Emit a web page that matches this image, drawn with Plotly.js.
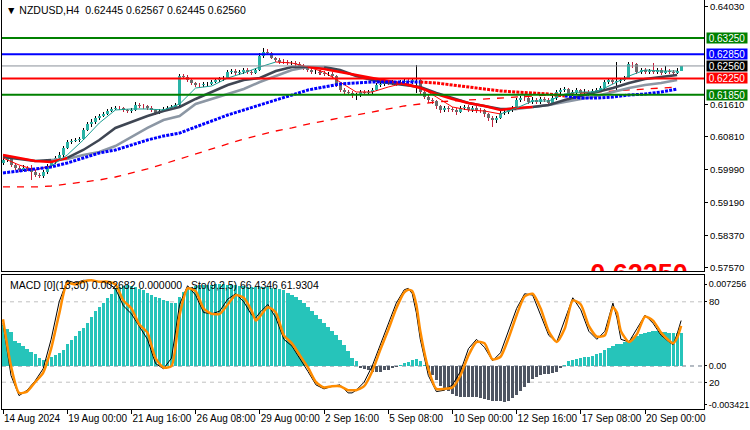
<!DOCTYPE html>
<html><head><meta charset="utf-8">
<script src="https://cdn.plot.ly/plotly-3.0.1.min.js"></script>
<style>html,body{margin:0;padding:0;background:#fff}#chart{width:750px;height:430px}</style>
</head><body><div id="chart"></div>
<script>
// ---------- DATA ----------
const openP = [
0.60150,0.60234,0.60284,0.60111,0.60037,0.59987,0.60037,0.60012,0.59937,0.59863,
0.59850,0.59937,0.60086,0.60185,0.60284,0.60358,0.60531,0.60680,0.60704,0.60729,
0.60754,0.60976,0.61124,0.61174,0.61273,0.61322,0.61372,0.61446,0.61496,0.61520,
0.61510,0.61471,0.61446,0.61471,0.61594,0.61570,0.61565,0.61520,0.61471,0.61397,
0.61446,0.61496,0.61520,0.61545,0.61594,0.62311,0.62287,0.62213,0.62138,0.62089,
0.62080,0.62114,0.62120,0.62163,0.62213,0.62237,0.62262,0.62410,0.62435,0.62386,
0.62410,0.62460,0.62410,0.62386,0.62460,0.62806,0.62905,0.62880,0.62757,0.62707,
0.62658,0.62650,0.62633,0.62640,0.62608,0.62559,0.62509,0.62460,0.62410,0.62420,
0.62386,0.62361,0.62370,0.62311,0.62089,0.61965,0.61916,0.61891,0.61842,0.61850,
0.61916,0.61891,0.61916,0.61965,0.62089,0.62114,0.62138,0.62130,0.62163,0.62114,
0.62163,0.62188,0.62163,0.62213,0.62225,0.61916,0.61792,0.61718,0.61693,0.61570,
0.61471,0.61520,0.61496,0.61471,0.61421,0.61520,0.61545,0.61471,0.61520,0.61471,
0.61460,0.61372,0.61273,0.61223,0.61273,0.61397,0.61421,0.61471,0.61520,0.61718,
0.61768,0.61760,0.61669,0.61718,0.61669,0.61743,0.61718,0.61644,0.61768,0.61916,
0.61965,0.61990,0.61866,0.61916,0.61965,0.61891,0.61916,0.61866,0.61941,0.61965,
0.62015,0.62163,0.62213,0.62163,0.62190,0.62213,0.62262,0.62608,0.62600,0.62410,
0.62460,0.62410,0.62435,0.62410,0.62460,0.62386,0.62435,0.62410,0.62386,0.62445];
const highP = [
0.60320,0.60360,0.60320,0.60160,0.60090,0.60100,0.60080,0.60100,0.59990,0.59920,
0.59990,0.60130,0.60240,0.60330,0.60420,0.60570,0.60730,0.60760,0.60770,0.60800,
0.61020,0.61170,0.61240,0.61320,0.61380,0.61420,0.61490,0.61550,0.61580,0.61560,
0.61540,0.61500,0.61520,0.61660,0.61640,0.61620,0.61600,0.61560,0.61500,0.61490,
0.61540,0.61570,0.61590,0.61640,0.62360,0.62370,0.62330,0.62260,0.62170,0.62140,
0.62160,0.62170,0.62210,0.62260,0.62290,0.62310,0.62460,0.62490,0.62480,0.62460,
0.62510,0.62500,0.62450,0.62510,0.62880,0.63004,0.62980,0.62910,0.62790,0.62750,
0.62720,0.62700,0.62690,0.62690,0.62650,0.62600,0.62560,0.62500,0.62470,0.62460,
0.62430,0.62420,0.62420,0.62340,0.62120,0.62010,0.61960,0.61940,0.61900,0.61960,
0.61960,0.61970,0.62010,0.62140,0.62160,0.62190,0.62190,0.62210,0.62200,0.62220,
0.62240,0.62230,0.62260,0.62584,0.62250,0.61950,0.61830,0.61770,0.61720,0.61600,
0.61580,0.61570,0.61540,0.61510,0.61580,0.61600,0.61590,0.61580,0.61560,0.61530,
0.61500,0.61400,0.61310,0.61330,0.61440,0.61480,0.61520,0.61570,0.61770,0.61820,
0.61830,0.61800,0.61780,0.61760,0.61800,0.61790,0.61760,0.61820,0.61960,0.62020,
0.62050,0.62020,0.61970,0.62020,0.62000,0.61980,0.61960,0.61990,0.62020,0.62070,
0.62220,0.62270,0.62250,0.62658,0.62270,0.62320,0.62658,0.62658,0.62630,0.62520,
0.62500,0.62490,0.62633,0.62510,0.62500,0.62550,0.62480,0.62460,0.62500,0.62567];
const lowP = [
0.60100,0.60180,0.60060,0.59980,0.59930,0.59950,0.59960,0.59740,0.59810,0.59780,
0.59790,0.59900,0.60050,0.60140,0.60250,0.60320,0.60500,0.60640,0.60670,0.60690,
0.60720,0.60940,0.61060,0.61130,0.61230,0.61290,0.61340,0.61410,0.61460,0.61460,
0.61420,0.61390,0.61400,0.61440,0.61520,0.61500,0.61470,0.61420,0.61350,0.61360,
0.61420,0.61460,0.61480,0.61510,0.61560,0.62240,0.62160,0.62090,0.62040,0.62030,
0.62040,0.62060,0.62080,0.62130,0.62170,0.62200,0.62230,0.62370,0.62340,0.62340,
0.62370,0.62360,0.62330,0.62350,0.62430,0.62760,0.62830,0.62720,0.62660,0.62610,
0.62600,0.62580,0.62590,0.62560,0.62510,0.62460,0.62410,0.62370,0.62360,0.62330,
0.62310,0.62310,0.62260,0.62040,0.61910,0.61860,0.61830,0.61760,0.61718,0.61800,
0.61840,0.61850,0.61870,0.61930,0.62050,0.62070,0.62080,0.62090,0.62060,0.62080,
0.62120,0.62110,0.62120,0.61891,0.61870,0.61740,0.61650,0.61620,0.61500,0.61400,
0.61430,0.61430,0.61410,0.61350,0.61390,0.61480,0.61420,0.61430,0.61400,0.61390,
0.61300,0.61200,0.61050,0.61150,0.61240,0.61350,0.61380,0.61430,0.61490,0.61680,
0.61700,0.61620,0.61630,0.61610,0.61630,0.61660,0.61590,0.61600,0.61730,0.61870,
0.61920,0.61820,0.61820,0.61870,0.61840,0.61850,0.61810,0.61830,0.61900,0.61920,
0.61980,0.62120,0.62110,0.61916,0.62140,0.62180,0.62230,0.62520,0.62360,0.62370,
0.62360,0.62370,0.62360,0.62370,0.62340,0.62350,0.62360,0.62340,0.62350,0.62445];
const closeP = [
0.60234,0.60284,0.60111,0.60037,0.59987,0.60037,0.60012,0.59937,0.59863,0.59850,
0.59937,0.60086,0.60185,0.60284,0.60358,0.60531,0.60680,0.60704,0.60729,0.60754,
0.60976,0.61124,0.61174,0.61273,0.61322,0.61372,0.61446,0.61496,0.61520,0.61510,
0.61471,0.61446,0.61471,0.61594,0.61570,0.61565,0.61520,0.61471,0.61397,0.61446,
0.61496,0.61520,0.61545,0.61594,0.62311,0.62287,0.62213,0.62138,0.62089,0.62080,
0.62114,0.62120,0.62163,0.62213,0.62237,0.62262,0.62410,0.62435,0.62386,0.62410,
0.62460,0.62410,0.62386,0.62460,0.62806,0.62905,0.62880,0.62757,0.62707,0.62658,
0.62650,0.62633,0.62640,0.62608,0.62559,0.62509,0.62460,0.62410,0.62420,0.62386,
0.62361,0.62370,0.62311,0.62089,0.61965,0.61916,0.61891,0.61842,0.61850,0.61916,
0.61891,0.61916,0.61965,0.62089,0.62114,0.62138,0.62130,0.62163,0.62114,0.62163,
0.62188,0.62163,0.62213,0.62225,0.61916,0.61792,0.61718,0.61693,0.61570,0.61471,
0.61520,0.61496,0.61471,0.61421,0.61520,0.61545,0.61471,0.61520,0.61471,0.61460,
0.61372,0.61273,0.61223,0.61273,0.61397,0.61421,0.61471,0.61520,0.61718,0.61768,
0.61760,0.61669,0.61718,0.61669,0.61743,0.61718,0.61644,0.61768,0.61916,0.61965,
0.61990,0.61866,0.61916,0.61965,0.61891,0.61916,0.61866,0.61941,0.61965,0.62015,
0.62163,0.62213,0.62163,0.62190,0.62213,0.62262,0.62608,0.62600,0.62410,0.62460,
0.62410,0.62435,0.62410,0.62460,0.62386,0.62435,0.62410,0.62386,0.62445,0.62560];

// moving averages, read every 4 bars
const maBars = [0,4,8,12,16,20,24,28,32,36,40,44,48,52,56,60,64,68,72,76,80,84,88,92,96,100,104,108,112,116,120,124,128,132,136,140,144,148,152,156,160,164,168];
const maFast = [0.60284,0.60111,0.59987,0.60086,0.60358,0.60729,0.61149,0.61471,0.61496,0.61496,0.61471,0.61619,0.62015,0.62064,0.62262,0.62386,0.62534,0.62658,0.62633,0.62534,0.62410,0.62163,0.61916,0.61916,0.62039,0.62138,0.62039,0.61792,0.61545,0.61471,0.61446,0.61372,0.61520,0.61693,0.61693,0.61866,0.61916,0.61916,0.62114,0.62311,0.62460,0.62435,0.62435];
const maMid = [0.60358,0.60284,0.60210,0.60185,0.60284,0.60482,0.60729,0.61026,0.61174,0.61322,0.61446,0.61545,0.61743,0.61916,0.62089,0.62213,0.62262,0.62435,0.62534,0.62534,0.62485,0.62410,0.62336,0.62262,0.62188,0.62114,0.62015,0.61866,0.61743,0.61644,0.61570,0.61471,0.61520,0.61545,0.61594,0.61718,0.61817,0.61916,0.62015,0.62138,0.62237,0.62287,0.62336];
const maSlow = [0.60308,0.60260,0.60210,0.60234,0.60260,0.60358,0.60432,0.60580,0.60803,0.61026,0.61223,0.61322,0.61619,0.61743,0.61866,0.61990,0.62163,0.62311,0.62460,0.62534,0.62534,0.62460,0.62311,0.62213,0.62138,0.62089,0.62039,0.61891,0.61768,0.61644,0.61570,0.61496,0.61496,0.61545,0.61594,0.61669,0.61743,0.61817,0.61916,0.62015,0.62089,0.62138,0.62213];
const maDots = [0.59913,0.59962,0.60012,0.60061,0.60160,0.60284,0.60407,0.60482,0.60605,0.60729,0.60828,0.60900,0.61050,0.61199,0.61347,0.61471,0.61594,0.61718,0.61842,0.61965,0.62039,0.62114,0.62138,0.62163,0.62163,0.62163,0.62163,0.62138,0.62089,0.62039,0.61990,0.61941,0.61916,0.61891,0.61866,0.61817,0.61768,0.61768,0.61792,0.61842,0.61866,0.61916,0.61990];
const maLong = [0.59567,0.59567,0.59567,0.59591,0.59641,0.59690,0.59740,0.59814,0.59913,0.60012,0.60135,0.60259,0.60383,0.60506,0.60630,0.60754,0.60853,0.60951,0.61026,0.61124,0.61199,0.61273,0.61347,0.61421,0.61496,0.61570,0.61619,0.61669,0.61693,0.61718,0.61743,0.61768,0.61792,0.61817,0.61842,0.61866,0.61891,0.61916,0.61941,0.61965,0.61990,0.62015,0.62039];

const levels = [0.63250, 0.62850, 0.62560, 0.62250, 0.61850];
const levelText = ['0.63250','0.62850','0.62560','0.62250','0.61850'];
const bigLabel = {bar:158.5, price:0.57360, text:'0.62250'};
const priceTicks = [0.64030, 0.61610, 0.60810, 0.59990, 0.59190, 0.58370, 0.57570];
const priceTickText = ['0.64030','0.61610','0.60810','0.59990','0.59190','0.58370','0.57570'];
const xTickBars = [0,16,32,48,64,80,96,112,128,144,160];
const xTickText = ['14 Aug 2024','19 Aug 00:00','21 Aug 16:00','26 Aug 08:00','29 Aug 00:00','2 Sep 16:00','5 Sep 08:00','10 Sep 00:00','12 Sep 16:00','17 Sep 08:00','20 Sep 00:00'];

const macdHist = [
0.00360,0.00327,0.00304,0.00226,0.00203,0.00175,0.00155,0.00126,0.00106,0.00075,
0.00054,0.00063,0.00083,0.00097,0.00118,0.00146,0.00192,0.00232,0.00269,0.00307,
0.00341,0.00384,0.00433,0.00484,0.00527,0.00562,0.00599,0.00639,0.00679,0.00702,
0.00714,0.00717,0.00708,0.00699,0.00685,0.00671,0.00648,0.00628,0.00613,0.00599,
0.00585,0.00576,0.00562,0.00556,0.00613,0.00656,0.00685,0.00702,0.00714,0.00716,
0.00718,0.00720,0.00722,0.00725,0.00725,0.00724,0.00722,0.00720,0.00716,0.00712,
0.00708,0.00703,0.00700,0.00697,0.00700,0.00705,0.00700,0.00692,0.00691,0.00685,
0.00671,0.00651,0.00628,0.00613,0.00585,0.00556,0.00519,0.00484,0.00456,0.00413,
0.00378,0.00347,0.00312,0.00275,0.00232,0.00183,0.00132,0.00069,0.00040,-0.00017,
-0.00026,-0.00037,-0.00049,-0.00049,-0.00054,-0.00037,-0.00032,-0.00020,-0.00009,0.00011,
0.00026,0.00034,0.00052,0.00060,0.00040,0.00009,-0.00032,-0.00083,-0.00123,-0.00175,
-0.00203,-0.00224,-0.00246,-0.00267,-0.00272,-0.00275,-0.00275,-0.00278,-0.00278,-0.00284,
-0.00289,-0.00298,-0.00307,-0.00312,-0.00312,-0.00315,-0.00307,-0.00284,-0.00255,-0.00221,
-0.00189,-0.00152,-0.00118,-0.00095,-0.00080,-0.00075,-0.00075,-0.00066,-0.00049,-0.00020,
0.00012,0.00040,0.00049,0.00060,0.00069,0.00077,0.00083,0.00092,0.00106,0.00118,
0.00146,0.00163,0.00175,0.00198,0.00198,0.00209,0.00226,0.00255,0.00269,0.00284,
0.00295,0.00298,0.00307,0.00312,0.00298,0.00298,0.00292,0.00289,0.00289,0.00292];

const stoBars = [0,2,4,6,8,10,12,14,16,18,20,22,24,26,28,30,32,34,36,38,40,42,44,46,48,50,52,54,56,58,60,62,63,64,66,68,70,72,74,76,78,80,82,84,86,87,88,90,92,94,96,98,100,101,102,103,104,106,108,110,112,114,116,118,120,122,124,126,128,130,132,134,136,138,140,142,144,146,148,150,152,153,154,156,158,160,162,164,166,167,168,169];
const stoSignal = [67,32,12,13,20,27,45,71,94,93,95,96,95,95,93,81,75,63,57,38,31,32,70,90,88,75,71,71,78,85,83,73,66,69,76,72,55,49,40,31,20,16,17,17,14,14,14,17,28,44,59,75,87,89,88,78,58,30,15,15,16,25,40,50,49,37,39,53,70,84,86,75,58,50,60,81,78,62,54,55,76,72,58,50,56,69,66,57,51,49,53,62];
const stoMain = [64,25,10,14,21,30,52,80,96,94,96,96,95,94,90,77,71,62,52,34,30,38,78,92,85,72,71,73,82,86,80,70,68,72,78,68,52,47,38,28,18,15,17,18,12,12,14,20,32,48,63,79,89,90,86,72,52,25,13,14,18,28,45,52,46,36,42,58,75,86,85,70,55,50,66,83,74,58,52,58,79,68,52,50,60,70,64,55,50,48,56,66];
const stoLevels = [80, 20];
const macdTicks = [0.007256, 0, -0.003421];
const macdTickText = ['0.007256','0.00','-0.003421'];

// ---------- STYLE ----------
const FONT = "'Liberation Sans',Arial,sans-serif";
const C = {bull:'#2AB3A6', bear:'#6B6B6B', bullWick:'#000000', bearWick:'#C41E3A',
  hiPos:'#26C4BA', hiNeg:'#4E5562', mid:'#3F4653', slow:'#8C97A4', red:'#FF0000',
  fast:'#1A9E92', blue:'#0000FF', orange:'#FF8C00'};
const levelColors = ['#008000','#0000FF','#000000','#FF0000','#008000'];
const lineColors = ['#008000','#0000FF','#8A9099','#FF0000','#008000'];
const lineWidths = [2,2,1,2,2];

const barIdx = closeP.map((_, i) => i);
const isBull = closeP.map((c, i) => c >= openP[i]);
function pick(vals, segs){ return vals.map((v,k)=> segs.some(([a,b])=>k>=a&&k<=b) ? v : null); }

const traces = [];
// big red text object, clipped at the price panel's bottom edge
traces.push({type:'scatter', mode:'text', x:[bigLabel.bar], y:[bigLabel.price], text:[bigLabel.text],
  textfont:{family:FONT, size:27, color:'#FF0000', weight:'bold'}, textposition:'middle center',
  cliponaxis:true, xaxis:'x2', yaxis:'y', hoverinfo:'skip'});
// candles: wick + body
traces.push({type:'bar', x:barIdx, base:lowP, y:highP.map((h,i)=>h-lowP[i]), width:0.25,
  marker:{color:isBull.map(b=>b?C.bullWick:C.bearWick), line:{width:0}}, xaxis:'x2', yaxis:'y', hoverinfo:'skip'});
traces.push({type:'bar', x:barIdx, base:closeP.map((c,i)=>Math.min(c,openP[i])),
  y:closeP.map((c,i)=>Math.max(Math.abs(c-openP[i]),0.00005)), width:0.75,
  marker:{color:isBull.map(b=>b?C.bull:C.bear), line:{width:0}}, xaxis:'x2', yaxis:'y', hoverinfo:'skip'});

function line(y, color, width, dash, segs){
  return {type:'scatter', mode:'lines', x:maBars, y: segs? pick(y, segs): y, connectgaps:false,
    line:{color, width, dash: dash||'solid'}, xaxis:'x2', yaxis:'y', hoverinfo:'skip'};
}
traces.push(line(maLong, C.red, 1.3, '7px,7px'));
traces.push(line(maSlow, C.slow, 2.5, null, [[3,20],[32,42]]));
traces.push(line(maSlow, C.mid, 2.5, null, [[0,3],[20,32]]));
traces.push(line(maMid, C.mid, 2.5, null, [[4,19],[33,42]]));
traces.push(line(maMid, C.red, 2.5, null, [[0,4],[19,33]]));
traces.push(line(maFast, C.fast, 1, null, [[3,17],[31,42]]));
traces.push(line(maFast, C.red, 1, null, [[0,3],[17,31]]));
traces.push(line(maDots, C.blue, 3, '3px,1.2px', [[0,26],[35,42]]));
traces.push(line(maDots, C.red, 3, '3px,1.2px', [[26,35]]));

// MACD histogram
traces.push({type:'bar', x:barIdx, y:macdHist, width:0.8,
  marker:{color:macdHist.map(v=>v>=0?C.hiPos:C.hiNeg), line:{width:0}}, xaxis:'x', yaxis:'y2', hoverinfo:'skip'});
// Stochastic
traces.push({type:'scatter', mode:'lines', x:stoBars, y:stoMain, line:{color:'#000', width:1}, xaxis:'x', yaxis:'y3', hoverinfo:'skip'});
traces.push({type:'scatter', mode:'lines', x:stoBars, y:stoSignal, line:{color:C.orange, width:2.5, shape:'spline', smoothing:0.6}, xaxis:'x', yaxis:'y3', hoverinfo:'skip'});

const shapes = [];
levels.forEach((lv,i)=>shapes.push({type:'line', xref:'paper', x0:0, x1:1, yref:'y', y0:lv, y1:lv,
  line:{color:lineColors[i], width:lineWidths[i]}, layer:'above'}));
stoLevels.forEach(lv=>shapes.push({type:'line', xref:'paper', x0:0, x1:1, yref:'y3', y0:lv, y1:lv,
  line:{color:'#C0C0C0', width:1, dash:'4px,4px'}, layer:'below'}));
shapes.push({type:'line', xref:'paper', x0:0, x1:1, yref:'y2', y0:0, y1:0,
  line:{color:'#6A7888', width:1, dash:'4px,4px'}, layer:'below'});

const annotations = [];
levels.forEach((lv,i)=>annotations.push({xref:'paper', x:1, xanchor:'left', xshift:2, yref:'y', y:lv,
  text:levelText[i], showarrow:false, bgcolor:levelColors[i], width:38, height:8, borderpad:1,
  font:{family:FONT, size:10, color:'#fff'}}));
annotations.push({xref:'paper', yref:'paper', x:0.003, y:1, xanchor:'left', yanchor:'top', yshift:-2,
  text:'▼ NZDUSD,H4  0.62445 0.62567 0.62445 0.62560', showarrow:false, font:{family:FONT, size:10.5, color:'#000'}});
annotations.push({xref:'paper', yref:'paper', x:0.008, y:0.3276, xanchor:'left', yanchor:'top', yshift:-2,
  text:'MACD [0](13,30) 0.002682 0.000000   Sto(9,2,5) 66.4346 61.9304', showarrow:false, font:{family:FONT, size:10.5, color:'#000'}});

const axisFont = {family:FONT, size:9.5, color:'#000'};
const layout = {
  width:750, height:430, margin:{l:2, r:46, t:0, b:21}, paper_bgcolor:'#fff', plot_bgcolor:'#fff',
  showlegend:false, barmode:'overlay', bargap:0, hovermode:false,
  xaxis:{domain:[0,1], anchor:'y2', range:[-0.25,174.7], tickvals:xTickBars, ticktext:xTickText, tickangle:0,
    ticks:'outside', ticklen:4, tickcolor:'#000', showline:true, linecolor:'#000', linewidth:1, mirror:true,
    showgrid:false, zeroline:false, tickfont:{family:FONT, size:10, color:'#000'}, ticklabelposition:'outside right'},
  xaxis2:{domain:[0,1], anchor:'y', matches:'x', showticklabels:false, ticks:'', showline:true,
    linecolor:'#000', linewidth:1, mirror:true, showgrid:false, zeroline:false},
  yaxis:{domain:[0.33741,1], anchor:'x2', side:'right', range:[0.57489,0.64191],
    tickvals:priceTicks, ticktext:priceTickText, ticks:'outside', ticklen:3, tickcolor:'#000',
    showline:true, linecolor:'#000', linewidth:1, mirror:true, showgrid:false, zeroline:false, tickfont:axisFont},
  yaxis2:{domain:[0,0.32763], anchor:'x', side:'right', range:[-0.003814,0.008072],
    tickvals:macdTicks, ticktext:macdTickText, ticks:'outside', ticklen:2, tickcolor:'#000',
    showline:true, linecolor:'#000', linewidth:1, mirror:true, showgrid:false, zeroline:false,
    tickfont:{family:FONT, size:9, color:'#000'}},
  yaxis3:{overlaying:'y2', anchor:'x', side:'right', range:[0,100], tickvals:stoLevels, ticktext:['80','20'],
    ticks:'outside', ticklen:2, tickcolor:'#000', showline:false, showgrid:false, zeroline:false, tickfont:axisFont},
  shapes, annotations
};
Plotly.newPlot('chart', traces, layout, {staticPlot:true, displayModeBar:false});
</script></body></html>
